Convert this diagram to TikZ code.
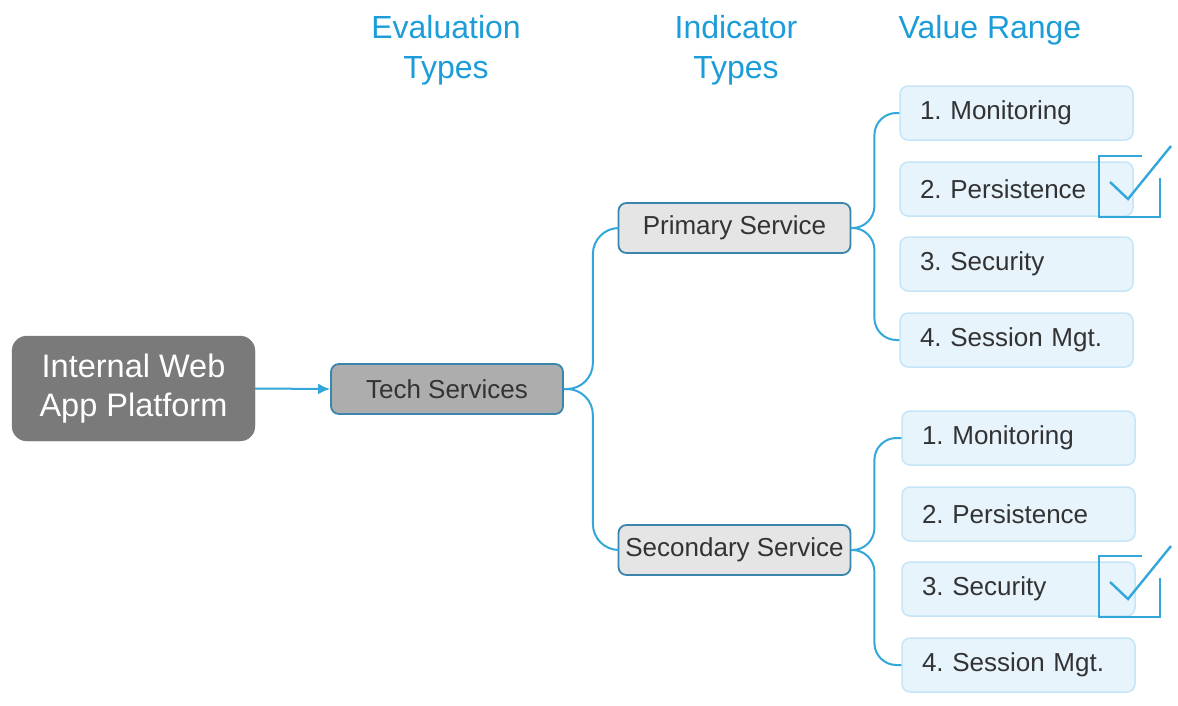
\documentclass[tikz,border=0pt]{standalone}
\usepackage{fontspec}
\setmainfont{Liberation Sans}
\usetikzlibrary{
    positioning,
    arrows.meta
    }

\definecolor{linkblue}{HTML}{33A6DA}
\definecolor{headblue}{HTML}{1C9CD8}
\definecolor{platgray}{HTML}{7A7A7A}
\definecolor{techgray}{HTML}{ADADAD}
\definecolor{svcgray}{HTML}{E5E5E5}
\definecolor{svcedge}{HTML}{3A85AB}
\definecolor{valfill}{HTML}{E7F4FC}
\definecolor{valedge}{HTML}{C6E5F7}
\definecolor{txtgray}{HTML}{333333}

\frenchspacing

\begin{document}
\begin{tikzpicture}[x=1pt, y=-1pt]
\tikzset{heading/.style =
        {
            text=headblue,
            font=\fontsize{32}{40}\selectfont,
            align=center
        }
}

\tikzset{platform/.style =
        {
            rectangle,
            rounded corners=15pt,
            fill=platgray,
            draw=platgray,
            text=white,
            minimum width=243pt,
            minimum height=105pt,
            align=center,
            font=\fontsize{32.5}{39}\selectfont
        }
}

\tikzset{service/.style =
        {
            rectangle,
            rounded corners=8pt,
            line width=1.8pt,
            draw=svcedge,
            fill=svcgray,
            text=txtgray,
            minimum width=232pt,
            minimum height=50pt,
            inner sep=0pt,
            font=\fontsize{26}{30}\selectfont
        }
}

\tikzset{tech/.style =
        {
            service,
            fill=techgray
        }
}

\tikzset{value/.style =
        {
            rectangle,
            rounded corners=8pt,
            line width=1.5pt,
            draw=valedge,
            fill=valfill,
            text=txtgray,
            text width=193pt,
            inner xsep=20pt,
            minimum height=54pt,
            align=left,
            font=\fontsize{26}{30}\selectfont
        }
}

\tikzset{link/.style = {
            line width=2pt,
            linkblue,
            rounded corners=22pt
        }
}

\tikzset{tick/.pic = {
            \draw[line width=2.4pt, linkblue] (43,0) -- (0,0) -- (0,61) -- (61,61) -- (61,22);
            \draw[line width=2.4pt, linkblue] (11,26) -- (29,43) -- (72,-10);
        }
}
		\useasboundingbox (0,0) rectangle (1178,705);

		\node[heading] (evalhead) at (446,50) {Evaluation\\Types};
		\node[heading] (indhead) at (736,50) {Indicator\\Types};
		\node[heading] (valhead) at (990,30) {Value Range};

		\node[platform] (platform) at (133.5,388.5) {Internal Web\\App Platform};
		\node[tech] (tech) at (447,389) {Tech Services};
		\node[service] (primary) at (734.5,228) {Primary Service};
		\node[service] (secondary) at (734.5,550) {Secondary Service};

		\foreach \n / \lbl / \y in
			{1/Monitoring/113,
				2/Persistence/189,
				3/Security/264,
				4/Session Mgt./340}
		{
		\node[value] at (1016.5,\y) (pv\n) {\n. \lbl};
		\node[value] at (1018.5,\y+325) (sv\n) {\n. \lbl};
		}

		\draw[line width=2pt, linkblue, -{Latex[length=12pt, width=11pt]}] (platform.east) -- (tech.west);

		\draw[link, rounded corners=26pt] (tech.east) -- ++(29,0) |- (primary.west);
		\draw[link, rounded corners=26pt] (tech.east) -- ++(29,0) |- (secondary.west);

		\foreach \s / \v in {primary/pv, secondary/sv}
		{
		\draw[link] (\s.east) -- ++(23,0) |- (\v1.west);
		\draw[link] (\s.east) -- ++(23,0) |- (\v4.west);
		}

		\pic at (1099,156) {tick};
		\pic at (1099,556) {tick};

	\end{tikzpicture}
\end{document}
